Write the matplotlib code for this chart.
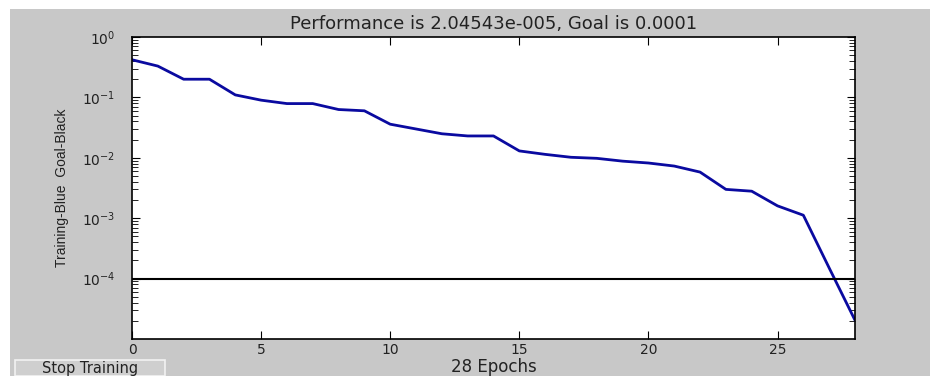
import matplotlib
matplotlib.use("Agg")
import matplotlib.pyplot as plt
from matplotlib.patches import Rectangle
import numpy as np

plt.rcParams['font.family'] = ['DejaVu Sans']
plt.rcParams['mathtext.fontset'] = 'dejavusans'

# training record
epochs = np.arange(0, 29)
perf = [0.42, 0.33, 0.20, 0.20, 0.11, 0.090, 0.079, 0.079, 0.063, 0.060,
        0.036, 0.030, 0.025, 0.023, 0.023, 0.013, 0.0114, 0.0102, 0.0098, 0.0088,
        0.0082, 0.0073, 0.0058, 0.0030, 0.0028, 0.0016, 0.00112, 1.5e-4, 2.04543e-5]
goal = 1e-4
xticks = [0, 5, 10, 15, 20, 25]

fig = plt.figure(figsize=(9.3, 3.76), dpi=100, facecolor='white')
gray = '#c8c8c8'
fig.patches.append(Rectangle((10/930, 0), 1, 1 - 9/376, transform=fig.transFigure,
                             facecolor=gray, edgecolor='none', zorder=-10))

ax = fig.add_axes([132/930, 37/376, 723/930, 302/376])
ax.set_zorder(1)
ax.set_facecolor('white')
ax.semilogy(epochs, perf, color='#0a0aa0', lw=2)
ax.axhline(goal, color='black', lw=1.5)
ax.set_xlim(0, 28)
ax.set_ylim(1e-5, 1)
ax.set_xticks(xticks)
ax.set_yticks([1, 1e-1, 1e-2, 1e-3, 1e-4])
ax.tick_params(axis='both', which='both', direction='in', top=True, right=True,
               labelsize=10, colors='black', labelcolor='#222222')
ax.tick_params(axis='both', which='major', length=6)
ax.tick_params(axis='y', which='minor', length=4)
ax.tick_params(axis='y', pad=12)
ax.tick_params(axis='x', pad=3)
for s in ax.spines.values():
    s.set_linewidth(1.2)

ax.set_title('Performance is 2.04543e-005, Goal is 0.0001', fontsize=13, pad=6,
             color='#222222')
ax.set_xlabel('28 Epochs', fontsize=12, color='#222222')
ax.xaxis.set_label_coords(0.5, -0.062)
ax.set_ylabel('Training-Blue  Goal-Black', fontsize=10, color='#222222',
              family=['Liberation Sans'])
ax.yaxis.set_label_coords(-63/723, 0.5)

# the button at the bottom left
fig.patches.append(Rectangle((15/930, 0), 150/930, 16/376, transform=fig.transFigure,
                             facecolor='#cfcfcf', edgecolor='#f2f2f2', lw=1.2, zorder=2))
fig.text(90/930, 8/376, 'Stop Training', ha='center', va='center', fontsize=10.5,
         color='#222222', zorder=3)

fig.savefig('out.png', dpi=100, facecolor=fig.get_facecolor())
